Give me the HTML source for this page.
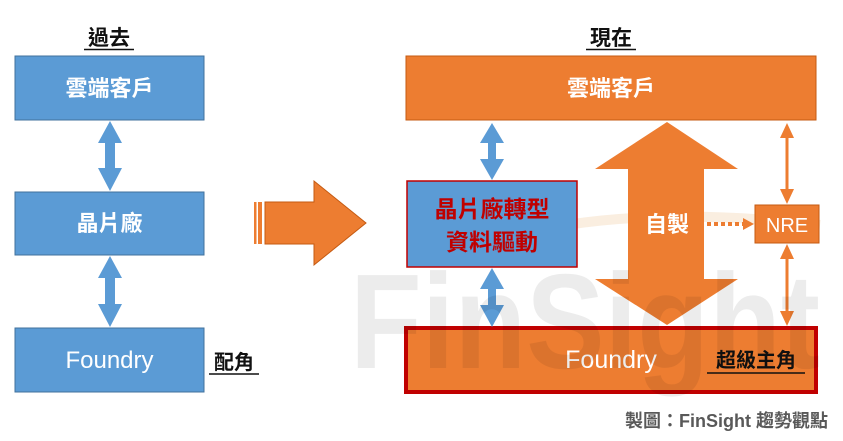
<!DOCTYPE html>
<html><head><meta charset="utf-8"><style>
html,body{margin:0;padding:0;background:#fff;}
svg{display:block;}
text{font-family:"Liberation Sans","Noto Sans CJK TC",sans-serif;}
</style></head><body>
<svg width="843" height="441" viewBox="0 0 843 441" xmlns="http://www.w3.org/2000/svg">
<path d="M470 250 Q600 200 820 225" stroke="#f6e3cc" stroke-width="10" fill="none" opacity="0.6"/>

<!-- titles -->
<text x="109" y="45" font-size="21" font-weight="bold" text-anchor="middle" fill="#111">過去</text>
<line x1="84" y1="49.5" x2="134" y2="49.5" stroke="#111" stroke-width="1.5"/>
<text x="611" y="45" font-size="21" font-weight="bold" text-anchor="middle" fill="#111">現在</text>
<line x1="586" y1="49.5" x2="636" y2="49.5" stroke="#111" stroke-width="1.5"/>

<!-- left column -->
<rect x="15" y="56" width="189" height="64" fill="#5b9bd5" stroke="#41719c" stroke-width="1"/>
<text x="109.5" y="96" font-size="22" font-weight="bold" text-anchor="middle" fill="#fff">雲端客戶</text>
<rect x="15" y="192" width="189" height="63" fill="#5b9bd5" stroke="#41719c" stroke-width="1"/>
<text x="109.5" y="231" font-size="22" font-weight="bold" text-anchor="middle" fill="#fff">晶片廠</text>
<rect x="15" y="328" width="189" height="64" fill="#5b9bd5" stroke="#41719c" stroke-width="1"/>
<text x="109.5" y="368" font-size="24" text-anchor="middle" fill="#fff">Foundry</text>
<text x="234" y="369" font-size="20" font-weight="bold" text-anchor="middle" fill="#111">配角</text>
<line x1="209" y1="374" x2="259" y2="374" stroke="#111" stroke-width="1.5"/>

<!-- left arrows -->
<polygon points="110,121 122,143 115,143 115,168 122,168 110,191 98,168 105,168 105,143 98,143" fill="#5b9bd5"/>
<polygon points="110,256 122,278 115,278 115,304 122,304 110,327 98,304 105,304 105,278 98,278" fill="#5b9bd5"/>

<!-- big right arrow -->
<rect x="254" y="202" width="2.5" height="42" fill="#ed7d31"/>
<rect x="258" y="202" width="4" height="42" fill="#ed7d31"/>
<polygon points="265,202 314,202 314,181 366,223 314,265 314,244 265,244" fill="#ed7d31" stroke="#c55a11" stroke-width="1"/>

<!-- right column -->
<rect x="406" y="56" width="410" height="64" fill="#ed7d31" stroke="#c55a11" stroke-width="1"/>
<text x="611" y="96" font-size="22" font-weight="bold" text-anchor="middle" fill="#fff">雲端客戶</text>

<rect x="406" y="328" width="410" height="64" fill="#ed7d31" stroke="#c00000" stroke-width="4"/>
<text x="611" y="368" font-size="25" text-anchor="middle" fill="#fff">Foundry</text>
<text x="756" y="367" font-size="20" font-weight="bold" text-anchor="middle" fill="#111">超級主角</text>
<line x1="707" y1="373" x2="805" y2="373" stroke="#111" stroke-width="1.5"/>

<!-- big double arrow -->
<polygon points="667,122 738,169 704,169 704,279 738,279 667,325 595,279 628,279 628,169 595,169" fill="#ed7d31"/>
<text x="667" y="232" font-size="22" font-weight="bold" text-anchor="middle" fill="#fff">自製</text>

<!-- blue box -->
<rect x="407" y="181" width="170" height="86" fill="#5b9bd5" stroke="#c00000" stroke-width="1.5"/>
<text x="492" y="217" font-size="23" font-weight="bold" text-anchor="middle" fill="#c00000">晶片廠轉型</text>
<text x="492" y="250" font-size="23" font-weight="bold" text-anchor="middle" fill="#c00000">資料驅動</text>

<!-- blue arrows right -->
<polygon points="492,123 504,143 496,143 496,159 504,159 492,180 480,159 488,159 488,143 480,143" fill="#5b9bd5"/>
<polygon points="492,268 504,289 496,289 496,305 504,305 492,327 480,305 488,305 488,289 480,289" fill="#5b9bd5"/>

<!-- NRE -->
<rect x="755" y="205" width="64" height="38" fill="#ed7d31" stroke="#c55a11" stroke-width="1"/>
<text x="787" y="232" font-size="20" text-anchor="middle" fill="#fff">NRE</text>
<line x1="707" y1="224" x2="744" y2="224" stroke="#ed7d31" stroke-width="4" stroke-dasharray="4,3"/>
<polygon points="743,218 754,224 743,230" fill="#ed7d31"/>

<!-- NRE arrows -->
<line x1="787" y1="133" x2="787" y2="194" stroke="#ed7d31" stroke-width="3"/>
<polygon points="787,123 794,138 780,138" fill="#ed7d31"/>
<polygon points="787,204 794,189 780,189" fill="#ed7d31"/>
<line x1="787" y1="254" x2="787" y2="316" stroke="#ed7d31" stroke-width="3"/>
<polygon points="787,244 794,259 780,259" fill="#ed7d31"/>
<polygon points="787,326 794,311 780,311" fill="#ed7d31"/>

<!-- watermark overlay -->
<text x="350" y="368" font-size="135" font-weight="bold" fill="#000" opacity="0.07" textLength="470" lengthAdjust="spacingAndGlyphs">FinSight</text>

<!-- credit -->
<text x="828" y="427" font-size="18" font-weight="bold" text-anchor="end" fill="#595959">製圖：FinSight 趨勢觀點</text>
</svg>
</body></html>
